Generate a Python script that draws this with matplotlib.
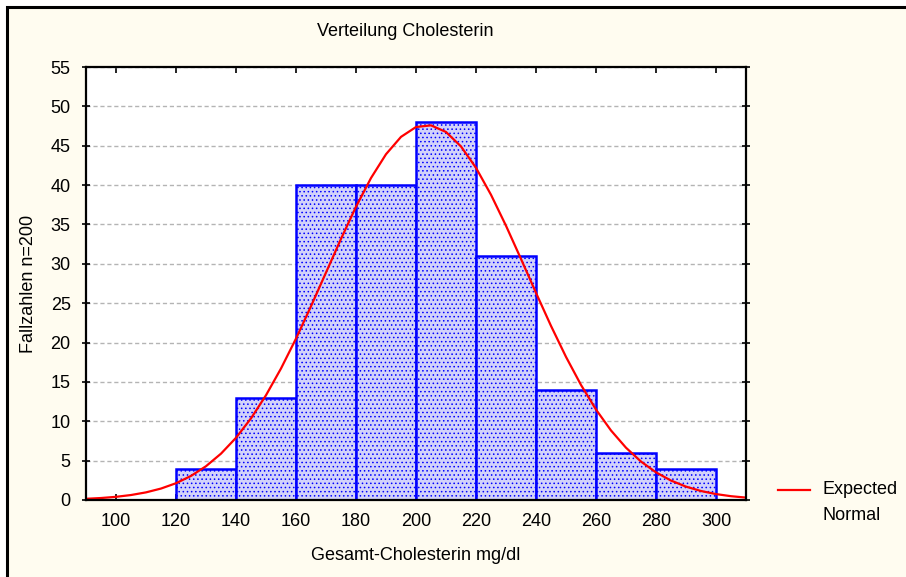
import numpy as np
import matplotlib
matplotlib.use("Agg")
import matplotlib.pyplot as plt
from matplotlib.patches import Rectangle

plt.rcParams['font.family'] = ['Liberation Sans', 'DejaVu Sans']
plt.rcParams['hatch.color'] = '#b4b4f2'
plt.rcParams['hatch.linewidth'] = 0.6

# Data
bin_left = [100, 120, 140, 160, 180, 200, 220, 240, 260, 280]
counts = [0, 4, 13, 40, 40, 48, 31, 14, 6, 4]
bin_width = 20
n_total = 200
fit_mean = 203.5
fit_sd = 33.5
x_ticks = [100, 120, 140, 160, 180, 200, 220, 240, 260, 280, 300]
y_ticks = [0, 5, 10, 15, 20, 25, 30, 35, 40, 45, 50, 55]

W, H = 906, 577
FS = 13
fig = plt.figure(figsize=(W / 100, H / 100), dpi=100)
fig.patch.set_facecolor('white')
# cream panel with black border (extends past right/bottom)
fig.patches.append(Rectangle((7 / W, -0.05), 1.1, 1 - 7 / H + 0.05, transform=fig.transFigure,
                             facecolor='#fffcf0', edgecolor='black', linewidth=2.2, zorder=-10))

ax = fig.add_axes([86 / W, 1 - 500 / H, 660 / W, 433 / H])
ax.set_facecolor('white')

ax.bar(bin_left, counts, width=bin_width, align='edge', facecolor='#d2d2fa',
       edgecolor='#0000ff', linewidth=1.8, hatch='....', zorder=3)

xs = np.arange(90, 311, 5.0)
ys = n_total * bin_width / (fit_sd * np.sqrt(2 * np.pi)) * np.exp(-0.5 * ((xs - fit_mean) / fit_sd) ** 2)
ax.plot(xs, ys, color='#ff0000', linewidth=1.6, zorder=4)

ax.set_xlim(90, 310)
ax.set_ylim(0, 55)
ax.set_xticks(x_ticks)
ax.set_yticks(y_ticks)
ax.tick_params(direction='in', length=4, width=1.2, top=True, right=True, labelsize=FS, pad=9)
ax.tick_params(axis='y', direction='inout', length=6, pad=8)
for s in ax.spines.values():
    s.set_linewidth(1.6)
    s.set_zorder(5)
ax.yaxis.grid(True, linestyle=(0, (3, 2)), color='#b4b4b4', linewidth=1.0, zorder=1)
ax.set_axisbelow(True)

fig.text(405 / W, 1 - 31 / H, 'Verteilung Cholesterin', ha='center', va='center', fontsize=FS)
fig.text(416 / W, 1 - 556 / H, 'Gesamt-Cholesterin mg/dl', ha='center', va='center', fontsize=FS)
fig.text(29 / W, 1 - 284 / H, 'Fallzahlen n=200', ha='center', va='center', rotation=90, fontsize=FS)

# legend
fig.lines.append(plt.Line2D([778 / W, 810 / W], [1 - 490 / H, 1 - 490 / H], transform=fig.transFigure,
                            color='#ff0000', linewidth=1.6))
fig.text(823 / W, 1 - 490 / H, 'Expected', ha='left', va='center', fontsize=FS)
fig.text(823 / W, 1 - 515 / H, 'Normal', ha='left', va='center', fontsize=FS)

fig.savefig('out.png', dpi=100, facecolor=fig.get_facecolor())
